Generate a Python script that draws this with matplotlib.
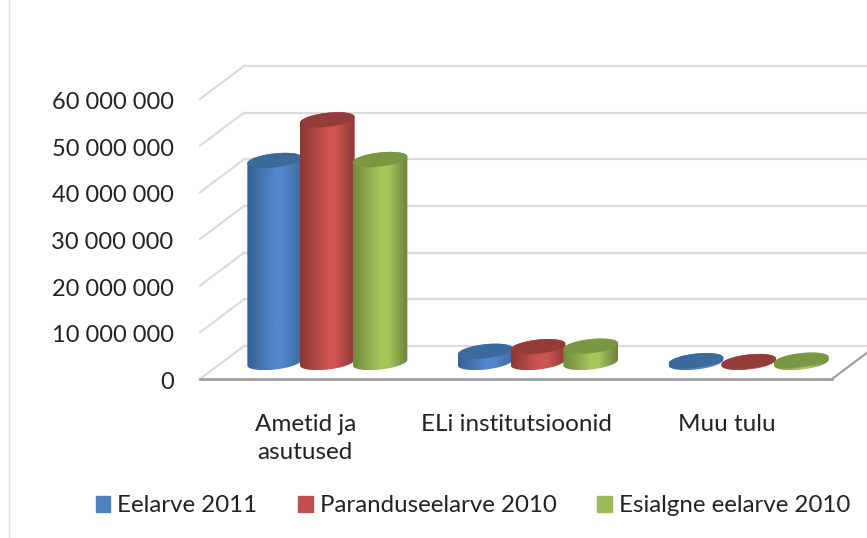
import matplotlib
matplotlib.use('Agg')
import matplotlib.pyplot as plt
from matplotlib.colors import LinearSegmentedColormap
from matplotlib.lines import Line2D
from matplotlib.patches import Patch, Polygon
from matplotlib.transforms import Affine2D
import numpy as np

categories = ['Ametid ja\nasutused', 'ELi institutsioonid', 'Muu tulu']
eelarve_2011 = [43300000, 2400000, 400000]
parandus_2010 = [52000000, 3400000, 200000]
esialgne_2010 = [43500000, 3500000, 500000]
y_ticks = [0, 10000000, 20000000, 30000000, 40000000, 50000000, 60000000]
y_labels = ['0', '10 000 000', '20 000 000', '30 000 000', '40 000 000', '50 000 000', '60 000 000']
series_names = ['Eelarve 2011', 'Paranduseelarve 2010', 'Esialgne eelarve 2010']

W, H = 867, 538
plt.rcParams['font.family'] = ['Lato', 'DejaVu Sans']

fig = plt.figure(figsize=(W / 100, H / 100), dpi=100)
ax = fig.add_axes([200 / W, (H - 379) / H, 632 / W, 280 / H])
ax.set_xlim(-0.5, 2.5)
ax.set_ylim(0, 60000000)

# size of one pixel in data units
px_x = 3 / 632
px_y = 60000000 / 280
dx = 44 * px_x
dy = 33 * px_y

grid_col = '#DCDCDC'
for v in y_ticks:
    ax.plot([-0.5 + dx, 2.5 + dx], [v + dy, v + dy], color=grid_col, lw=1.6, clip_on=False, zorder=1)
    ax.plot([-0.5, -0.5 + dx], [v, v + dy], color=grid_col, lw=1.6, clip_on=False, zorder=1)
ax.plot([2.5, 2.5 + dx], [0, dy], color='#A0A0A0', lw=1.6, clip_on=False, zorder=1)
ax.plot([-0.5, 2.5], [0, 0], color='#A0A0A0', lw=2, clip_on=False, zorder=1)


def ellipse(cx, cy, t):
    # tilted ellipse, sizes in pixels
    a, b, tilt = 27.5, 7.0, np.radians(6.5)
    ex = a * np.cos(t)
    ey = b * np.sin(t)
    px = ex * np.cos(tilt) - ey * np.sin(tilt)
    py = ex * np.sin(tilt) + ey * np.cos(tilt)
    return np.column_stack([cx + px * px_x, cy + py * px_y])


def cylinder(x, value, edge_l, mid, edge_r, top):
    base = dy / 2
    up = np.linspace(0, np.pi, 60)
    low = np.linspace(np.pi, 2 * np.pi, 60)
    pts = np.vstack([ellipse(x, base, low), ellipse(x, base + value, up)])
    cmap = LinearSegmentedColormap.from_list('c', [(0, edge_l), (0.5, mid), (0.65, mid), (1, edge_r)])
    clip = Polygon(pts, transform=ax.transData, fill=False, edgecolor='none')
    ax.add_patch(clip)
    im = ax.imshow(np.linspace(0, 1, 128).reshape(1, -1), cmap=cmap, aspect='auto', zorder=3,
                   extent=[pts[:, 0].min(), pts[:, 0].max(), pts[:, 1].min(), pts[:, 1].max()])
    im.set_clip_path(clip)
    ax.add_patch(Polygon(ellipse(x, base + value, np.linspace(0, 2 * np.pi, 100)), facecolor=top,
                         edgecolor='none', zorder=3))


styles = [
    (eelarve_2011, -0.25, '#37608F', '#5088CC', '#3F6A9E', '#3B6A9C'),
    (parandus_2010, 0, '#8A3735', '#CD5552', '#8F3A38', '#953B39'),
    (esialgne_2010, 0.25, '#6F8A3A', '#A5C65B', '#6A8338', '#7A9743'),
]
for vals, off, el, mid, er, top in styles:
    for i, v in enumerate(vals):
        cylinder(i + dx / 2 + off, v, el, mid, er, top)
ax.set_xlim(-0.5, 2.5)
ax.set_ylim(0, 60000000)

ax.set_xticks([0, 1, 2])
ax.set_xticklabels(categories, fontsize=17.5, color='#222222', linespacing=1.45)
ax.set_yticks(y_ticks)
ax.set_yticklabels(y_labels, fontsize=17, color='#222222')
ax.tick_params(axis='x', length=0, pad=25)
ax.tick_params(axis='y', length=0, pad=19)
for lab in ax.get_yticklabels():
    lab.set_transform(lab.get_transform() + Affine2D().translate(0, -1.5))
for s in ax.spines.values():
    s.set_visible(False)
ax.patch.set_visible(False)

# thin frame line at the left of the picture
fig.add_artist(Line2D([9 / W, 9 / W], [0, 1], color='#E0E0E0', lw=1))

handles = [Patch(color=c) for c in ['#4F81BD', '#C0504D', '#9BBB59']]
fig.legend(handles, series_names, ncol=3, frameon=False, fontsize=17.3, loc='center',
           bbox_to_anchor=(473 / W, (H - 506) / H), handlelength=0.6, handleheight=0.6,
           handletextpad=0.3, columnspacing=1.7, labelcolor='#222222')

fig.savefig('out.png', dpi=100)
